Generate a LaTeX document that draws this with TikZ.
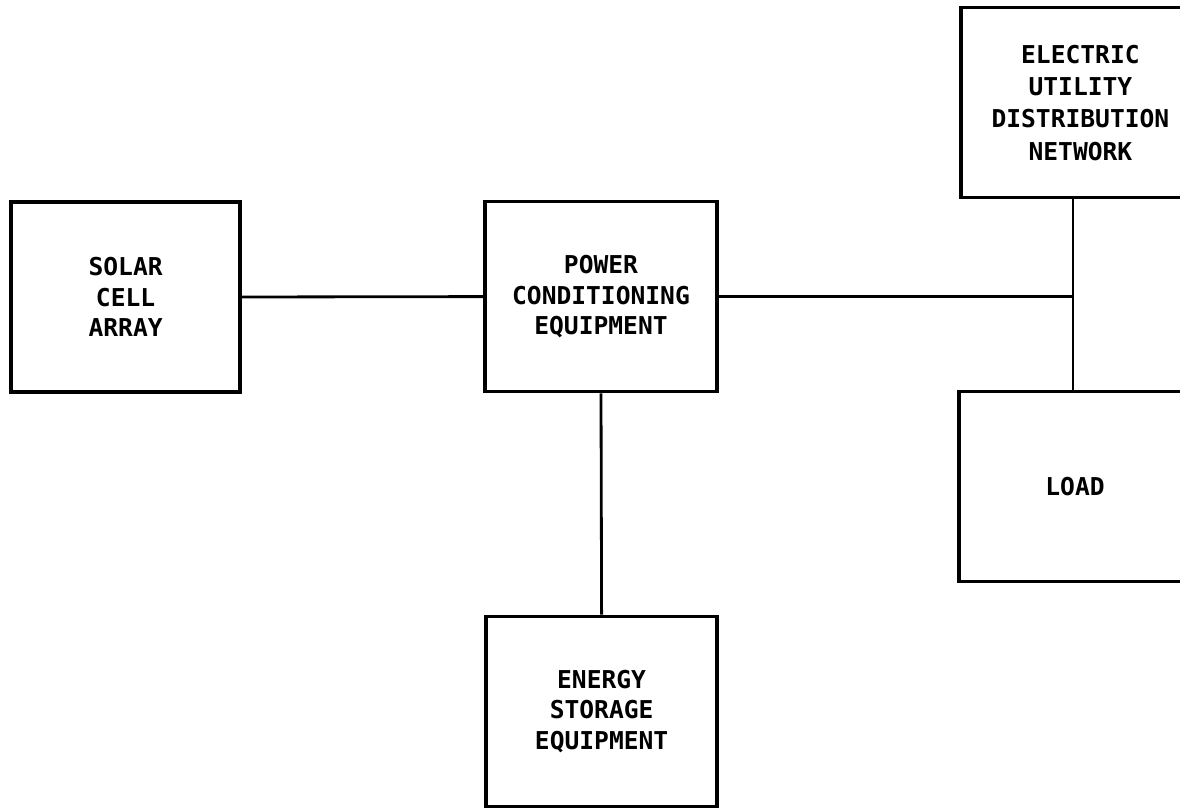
\documentclass[tikz,border=0pt]{standalone}
\usepackage{fontspec}
\newfontfamily\typefont{DejaVu Sans Mono Bold}
\usetikzlibrary{calc}

\tikzset{
  block/.style={draw=black, line width=2.6pt, rectangle, align=center,
    minimum width=5.8cm, minimum height=4.75cm, inner sep=0pt,
    font=\typefont\fontsize{17.5}{21.5}\selectfont},
  wire/.style={draw=black, line width=2pt}
}

\begin{document}
\begin{tikzpicture}

% === FRAME ===
\useasboundingbox (0,0) rectangle (29.5,20.225);
\clip (0,0) rectangle (29.5,20.225);

% === BLOCKS ===
\node[block, minimum width=5.725cm] (solar) at (3.14,12.8) {SOLAR\\CELL\\ARRAY};
\node[block] (power) at (15.025,12.81) {POWER\\CONDITIONING\\EQUIPMENT};
\node[block, minimum width=5.775cm] (energy) at (15.04,2.44) {ENERGY\\STORAGE\\EQUIPMENT};
\node[block, minimum width=5.975cm, font=\typefont\fontsize{17.5}{23}\selectfont] (utility) at (27.01,17.66) {ELECTRIC\\UTILITY\\DISTRIBUTION\\NETWORK};
\node[block] (load) at (26.875,8.06) {LOAD};

% junction on the utility/load tie
\coordinate (tie) at (26.825,12.85);

% === CONNECTIONS ===
\draw[wire] (solar.east) -- (power.west);
\draw[wire] (power.south) -- (energy.north);
\draw[wire] (power.east) -- (power.east -| tie);
\draw[wire] (utility.south -| tie) -- (load.north -| tie);

\end{tikzpicture}
\end{document}
